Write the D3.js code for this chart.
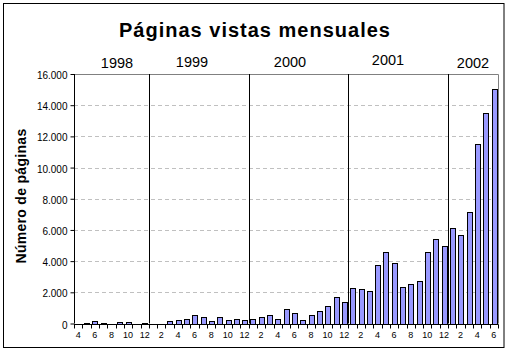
<!DOCTYPE html>
<html>
<head>
<meta charset="utf-8">
<script src="https://cdn.jsdelivr.net/npm/d3@7"></script>
<style>
  body { margin: 0; background: #fff; }
  svg { display: block; font-family: "Liberation Sans", Arial, sans-serif; }
</style>
</head>
<body>
<div id="chart"></div>
<script>
// month numbers, April 1998 to June 2002
const months = [4, 5, 6, 7, 8, 9, 10, 11, 12,
    1, 2, 3, 4, 5, 6, 7, 8, 9, 10, 11, 12,
    1, 2, 3, 4, 5, 6, 7, 8, 9, 10, 11, 12,
    1, 2, 3, 4, 5, 6, 7, 8, 9, 10, 11, 12,
    1, 2, 3, 4, 5, 6];

// page views per month
const pageViews = [0, 50, 130, 60, 0, 120, 120, 0, 50,
    0, 0, 140, 200, 270, 525, 400, 140, 385, 205, 270, 205,
    270, 385, 525, 320, 920, 665, 215, 535, 790, 1100, 1670, 1350,
    2250, 2190, 2060, 3730, 4565, 3860, 2340, 2510, 2700, 4565, 5400, 4960,
    6110, 5660, 7150, 11520, 13500, 15040];

const years = ["1998", "1999", "2000", "2001", "2002"];
const yTicks = [0, 2000, 4000, 6000, 8000, 10000, 12000, 14000, 16000];

const title = "Páginas vistas mensuales";
const yTitle = "Número de páginas";

// layout
const W = 509, H = 351;
const plot = {left: 74, right: 498, top: 74, bottom: 323.5};
const yearLabelX = [117, 192, 290, 388, 473];
const yearLabelY = [68, 67, 67, 65, 68];

const svg = d3.select("#chart").append("svg")
    .attr("width", W)
    .attr("height", H);

// outer frame
svg.append("rect")
    .attr("x", 3.5).attr("y", 3.5)
    .attr("width", 500.5).attr("height", 344)
    .attr("fill", "#fff")
    .attr("stroke", "#000");

const idx = d3.range(months.length);

const x = d3.scaleBand()
    .domain(idx)
    .range([plot.left, plot.right])
    .paddingInner(0.45)
    .paddingOuter(0.225);

const y = d3.scaleLinear()
    .domain([0, 16000])
    .range([plot.bottom, plot.top]);

const fmt = d3.formatLocale({decimal: ",", thousands: ".", grouping: [3], currency: ["", ""]}).format(",");

// gridlines
svg.append("g")
    .selectAll("line")
    .data(yTicks.slice(1, -1))
    .join("line")
    .attr("x1", plot.left).attr("x2", plot.right)
    .attr("y1", d => Math.round(y(d)) + 0.5)
    .attr("y2", d => Math.round(y(d)) + 0.5)
    .attr("stroke", "#c0c0c0")
    .attr("stroke-dasharray", "4,3");

// plot border top/right
svg.append("path")
    .attr("d", `M${plot.left},${plot.top + 0.5}H${plot.right + 0.5}V${plot.bottom}`)
    .attr("fill", "none")
    .attr("stroke", "#808080");

// bars
svg.append("g")
    .selectAll("rect")
    .data(idx)
    .join("rect")
    .attr("x", i => Math.round(x(i)) + 0.5)
    .attr("width", Math.round(x.bandwidth()))
    .attr("y", i => Math.round(y(pageViews[i])) + 0.5)
    .attr("height", i => Math.max(0, Math.round(y(0)) - Math.round(y(pageViews[i]))))
    .attr("fill", "#9999ff")
    .attr("stroke", "#000")
    .attr("display", i => pageViews[i] > 0 ? null : "none");

// year separators (between December and January)
const step = x.step();
const sepIdx = idx.filter(i => i > 0 && months[i] === 1);
svg.append("g")
    .selectAll("line")
    .data(sepIdx)
    .join("line")
    .attr("x1", i => Math.round(plot.left + step * i) + 0.5)
    .attr("x2", i => Math.round(plot.left + step * i) + 0.5)
    .attr("y1", plot.top)
    .attr("y2", plot.bottom)
    .attr("stroke", "#000");

// y axis
const yAxis = d3.axisLeft(y)
    .tickValues(yTicks)
    .tickFormat(fmt)
    .tickSize(4)
    .tickPadding(3);
const gy = svg.append("g")
    .attr("transform", `translate(${plot.left + 0.5},0)`)
    .call(yAxis);
gy.selectAll("text").attr("font-size", 10).attr("dy", "0.45em").attr("fill", "#000");
gy.selectAll("line").attr("stroke", "#000");
gy.select(".domain").attr("stroke", "#000").attr("d", `M0,${plot.top}V${plot.bottom}`);

// x axis: labels centred on months, ticks on month boundaries
const xAxis = d3.axisBottom(x)
    .tickFormat(i => months[i] % 2 === 0 ? months[i] : "")
    .tickSize(0)
    .tickPadding(7);
const gx = svg.append("g")
    .attr("transform", `translate(0,${Math.round(plot.bottom) + 0.5})`)
    .call(xAxis);
gx.selectAll("text").attr("font-size", 9).attr("fill", "#000");
gx.select(".domain").attr("stroke", "#000").attr("d", `M${plot.left},0H${plot.right + 0.5}`);
gx.append("g")
    .selectAll("line")
    .data(d3.range(months.length + 1))
    .join("line")
    .attr("x1", i => Math.round(plot.left + step * i) + 0.5)
    .attr("x2", i => Math.round(plot.left + step * i) + 0.5)
    .attr("y1", 0).attr("y2", 4)
    .attr("stroke", "#000");

// year labels
svg.append("g")
    .selectAll("text")
    .data(years)
    .join("text")
    .attr("x", (d, i) => yearLabelX[i])
    .attr("y", (d, i) => yearLabelY[i])
    .attr("text-anchor", "middle")
    .attr("font-size", 14.5)
    .text(d => d);

// title
svg.append("text")
    .attr("x", 255)
    .attr("y", 37)
    .attr("text-anchor", "middle")
    .attr("font-size", 20)
    .attr("font-weight", "bold")
    .attr("letter-spacing", 1)
    .text(title);

// y title
svg.append("text")
    .attr("transform", "translate(26,196) rotate(-90)")
    .attr("text-anchor", "middle")
    .attr("font-size", 14)
    .attr("font-weight", "bold")
    .attr("letter-spacing", 0.3)
    .text(yTitle);
</script>
</body>
</html>
